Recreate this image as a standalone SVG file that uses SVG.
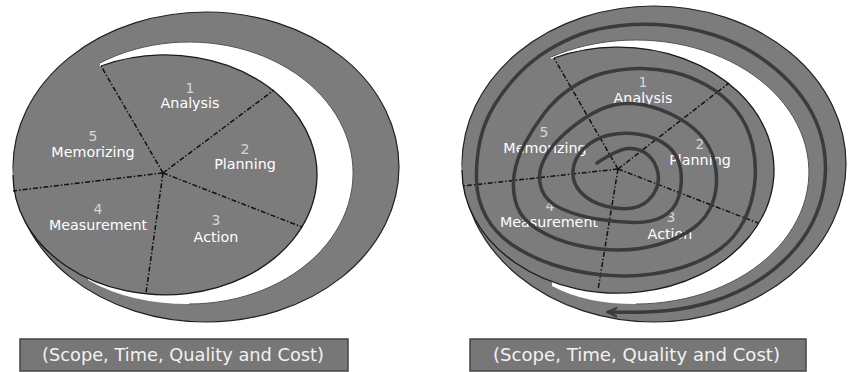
<svg xmlns="http://www.w3.org/2000/svg" width="848" height="372" viewBox="0 0 848 372">
<style>
.ring{fill:#7c7c7c;stroke:#222;stroke-width:1.2}
.white{fill:#fff;stroke:none}
.inner{fill:none;stroke:#555;stroke-width:1}
.pie{fill:#7c7c7c;stroke:none}
.pieedge{fill:none;stroke:#1a1a1a;stroke-width:1.3}
.div{fill:none;stroke:#111;stroke-width:1.5;stroke-dasharray:5 2 1.5 2}
.num{font-family:"DejaVu Sans",Verdana,sans-serif;font-size:14px;fill:#d6d6d6;text-anchor:middle}
.lab{font-family:"DejaVu Sans",Verdana,sans-serif;font-size:14.3px;fill:#fff;text-anchor:middle}
.box{fill:#777;stroke:#444;stroke-width:1.5}
.boxt{font-family:"DejaVu Sans",Tahoma,sans-serif;font-size:17.7px;fill:#f2f2f2;text-anchor:middle}
.spiral{fill:none;stroke:#3b3b3b;stroke-width:3.5;stroke-linecap:round;stroke-linejoin:round}
</style>
<defs>
<marker id="arrow" viewBox="-1 -6 12 12" refX="9" refY="0" markerWidth="12" markerHeight="12" markerUnits="userSpaceOnUse" orient="auto">
<path d="M0,-4.5 L9,0 L0,4.5" fill="none" stroke="#3b3b3b" stroke-width="2.2"/>
</marker>
</defs>

<!-- LEFT FIGURE -->
<g id="left-cycle">
<ellipse class="ring" cx="206" cy="167" rx="193" ry="155"/>
<path class="white" d="M100,63 A164,131 0 1 1 189,304 Q130,304 88,280 Z"/>
<path class="inner" d="M100,63 A164,131 0 1 1 189,304"/>
<ellipse class="pie" cx="165" cy="175" rx="152" ry="120"/>
<path class="pieedge" d="M101,66 A152,120 0 1 1 13,175"/>
</g>
<g id="left-connectors">
<line class="div" x1="163" y1="173" x2="101" y2="66"/>
<line class="div" x1="163" y1="173" x2="274" y2="90"/>
<line class="div" x1="163" y1="173" x2="302" y2="227"/>
<line class="div" x1="163" y1="173" x2="146" y2="293"/>
<line class="div" x1="163" y1="173" x2="13" y2="191"/>
</g>
<g id="left-analysis"><text class="num" x="190" y="92.5">1</text><text class="lab" x="190" y="108">Analysis</text></g>
<g id="left-planning"><text class="num" x="245" y="153.5">2</text><text class="lab" x="245" y="169">Planning</text></g>
<g id="left-action"><text class="num" x="216" y="225">3</text><text class="lab" x="216" y="242">Action</text></g>
<g id="left-measurement"><text class="num" x="98" y="214">4</text><text class="lab" x="98" y="230">Measurement</text></g>
<g id="left-memorizing"><text class="num" x="93" y="141">5</text><text class="lab" x="93" y="157">Memorizing</text></g>
<g id="left-box"><rect class="box" x="20" y="339" width="328" height="32"/><text class="boxt" x="183" y="361" textLength="282" lengthAdjust="spacingAndGlyphs">(Scope, Time, Quality and Cost)</text></g>

<!-- RIGHT FIGURE -->
<g id="right-cycle">
<ellipse class="ring" cx="654" cy="164" rx="192" ry="158"/>
<path class="white" d="M551,57 A173,132 0 1 1 636,304 Q585,304 552,286 Z"/>
<path class="inner" d="M551,57 A173,132 0 1 1 636,304"/>
<ellipse class="pie" cx="618" cy="170" rx="156" ry="123"/>
<path class="pieedge" d="M554,58 A156,123 0 1 1 462,170"/>
</g>
<g id="right-analysis"><text class="num" x="643" y="87">1</text><text class="lab" x="643" y="103">Analysis</text></g>
<g id="right-planning"><text class="num" x="700" y="148.5">2</text><text class="lab" x="700" y="164.5">Planning</text></g>
<g id="right-action"><text class="num" x="671" y="222">3</text><text class="lab" x="670" y="239">Action</text></g>
<g id="right-measurement"><text class="num" x="550" y="210.5">4</text><text class="lab" x="549" y="226.5">Measurement</text></g>
<g id="right-memorizing"><text class="num" x="544" y="136.5">5</text><text class="lab" x="545" y="152.5">Memorizing</text></g>
<g id="right-connectors">
<line class="div" x1="618" y1="169" x2="554" y2="58"/>
<line class="div" x1="618" y1="169" x2="729" y2="83"/>
<line class="div" x1="618" y1="169" x2="758" y2="223"/>
<line class="div" x1="618" y1="169" x2="598" y2="290"/>
<line class="div" x1="618" y1="169" x2="463" y2="186"/>
<path class="spiral" marker-end="url(#arrow)" d="M597,163 Q618,149 629,148.5 Q640,148 648,155 Q656,162 658,173.5 Q660,185 652.5,195.5 Q645,206 632.5,208 Q620,210 605,206 Q590,202 581,192.5 Q572,183 573,170.5 Q574,158 584.5,148 Q595,138 609.5,135 Q624,132 640,134.5 Q656,137 667,145.5 Q678,154 680.5,169 Q683,184 678.5,197.5 Q674,211 662,217 Q650,223 633,222.5 Q616,222 597,219 Q578,216 562,209 Q546,202 541.5,189 Q537,176 542.5,163 Q548,150 559,139 Q570,128 585,118 Q600,108 614,105 Q628,102 644,105 Q660,108 677.5,117.5 Q695,127 704.5,140 Q714,153 716,170.5 Q718,188 712.5,203 Q707,218 693.5,228 Q680,238 660,244 Q640,250 619,250 Q598,250 576.5,245 Q555,240 538.5,230 Q522,220 517,206 Q512,192 514,176 Q516,160 524.5,144 Q533,128 544.5,113 Q556,98 572,87.5 Q588,77 604,73 Q620,69 637.5,68.5 Q655,68 672.5,72 Q690,76 707,85.5 Q724,95 736,110 Q748,125 752.5,145 Q757,165 754.5,185 Q752,205 743.5,221.5 Q735,238 720,249 Q705,260 685,266.5 Q665,273 643.5,275 Q622,277 598.5,274.5 Q575,272 552.5,264.5 Q530,257 512.5,245 Q495,233 486,216.5 Q477,200 476.5,180 Q476,160 480,141 Q484,122 494.5,105 Q505,88 518.5,74 Q532,60 548.5,50 Q565,40 581.5,34 Q598,28 621.5,25.5 Q645,23 668.5,25.5 Q692,28 714,35 Q736,42 755,54 Q774,66 788.5,81 Q803,96 812,113 Q821,130 824,149 Q827,168 824,187 Q821,206 812,223.5 Q803,241 788.5,256 Q774,271 755,282.5 Q736,294 714,301 Q692,308 668.5,310.5 Q645,313 608,312"/>
</g>
<g id="right-box"><rect class="box" x="470" y="339" width="336" height="32"/><text class="boxt" x="636.5" y="361" textLength="287" lengthAdjust="spacingAndGlyphs">(Scope, Time, Quality and Cost)</text></g>
</svg>
